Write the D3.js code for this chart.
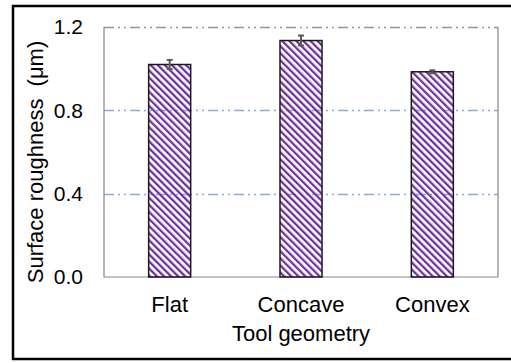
<!DOCTYPE html>
<html>
<head>
<meta charset="utf-8">
<script src="https://cdn.jsdelivr.net/npm/d3@7"></script>
<style>
  body { margin: 0; background: #fff; }
  svg { display: block; font-family: 'Liberation Sans', Arial, sans-serif; }
</style>
</head>
<body>
<svg id="chart" width="511" height="363"></svg>
<script>
const categories = ['Flat', 'Concave', 'Convex']
const roughness = [1.02, 1.135, 0.985]
const errors = [0.022, 0.024, 0.007]
const yTicks = [0, 0.4, 0.8, 1.2]
const xLabel = 'Tool geometry'
const yLabel = 'Surface roughness  (μm)'

const svg = d3.select('#chart')
const margin = { left: 104, right: 13, top: 27, bottom: 86 }
const width = +svg.attr('width')
const height = +svg.attr('height')
const innerWidth = width - margin.left - margin.right
const innerHeight = height - margin.top - margin.bottom
const font = "'Liberation Sans', Arial, sans-serif"

// outer frame
svg.append('rect')
  .attr('x', 13).attr('y', 6)
  .attr('width', 510).attr('height', 353)
  .attr('fill', 'none')
  .attr('stroke', '#000')
  .attr('stroke-width', 2.5)

// hatch
const defs = svg.append('defs')
defs.append('pattern')
  .attr('id', 'hatch')
  .attr('patternUnits', 'userSpaceOnUse')
  .attr('width', 5).attr('height', 5)
  .attr('patternTransform', 'rotate(-45)')
  .append('rect')
  .attr('x', 0).attr('y', 0)
  .attr('width', 2.3).attr('height', 5)
  .attr('fill', '#7030a0')

const g = svg.append('g')
  .attr('transform', 'translate(' + margin.left + ',' + margin.top + ')')

const x = d3.scaleBand().domain(categories).range([0, innerWidth]).paddingInner(0.68).paddingOuter(0.34)
const y = d3.scaleLinear().domain([0, 1.2]).range([innerHeight, 0])

// gridlines
g.selectAll('.grid').data(yTicks.filter(d => d > 0))
  .enter().append('line')
  .attr('class', 'grid')
  .attr('x1', 0).attr('x2', innerWidth)
  .attr('y1', d => Math.round(y(d)) + 0.5).attr('y2', d => Math.round(y(d)) + 0.5)
  .attr('stroke', d => d === 1.2 ? '#8c98a8' : '#8eaadb')
  .attr('stroke-width', 1.3)
  .attr('stroke-dasharray', '10,4,2,4,2,4')

// plot frame (left, right, bottom)
g.append('path')
  .attr('d', 'M0,0V' + innerHeight + 'H' + innerWidth + 'V0')
  .attr('fill', 'none')
  .attr('stroke', '#888')
  .attr('stroke-width', 1.2)

// bars
const data = categories.map((c, i) => ({ cat: c, v: roughness[i], e: errors[i] }))
g.selectAll('.bar').data(data)
  .enter().append('rect')
  .attr('class', 'bar')
  .attr('x', d => x(d.cat))
  .attr('y', d => y(d.v))
  .attr('width', x.bandwidth())
  .attr('height', d => innerHeight - y(d.v))
  .attr('fill', 'url(#hatch)')
  .attr('stroke', '#1a1a1a')
  .attr('stroke-width', 1.5)

// error bars
const cx = d => x(d.cat) + x.bandwidth() / 2
const eb = g.selectAll('.err').data(data).enter().append('g')
  .attr('stroke', '#595959')
  .attr('stroke-width', 2)
eb.append('line')
  .attr('x1', cx).attr('x2', cx)
  .attr('y1', d => y(d.v - d.e)).attr('y2', d => y(d.v + d.e))
eb.append('line')
  .attr('x1', d => cx(d) - 3).attr('x2', d => cx(d) + 3)
  .attr('y1', d => y(d.v + d.e)).attr('y2', d => y(d.v + d.e))
eb.append('line')
  .attr('x1', d => cx(d) - 3).attr('x2', d => cx(d) + 3)
  .attr('y1', d => y(d.v - d.e)).attr('y2', d => y(d.v - d.e))

// axes
const yAxisG = g.append('g')
  .call(d3.axisLeft(y).tickValues(yTicks).tickFormat(d3.format('.1f')).tickSize(0).tickPadding(21))
yAxisG.select('.domain').remove()
yAxisG.attr('font-family', font).attr('font-size', 21)
yAxisG.selectAll('text').attr('fill', '#000')

const xAxisG = g.append('g')
  .attr('transform', `translate(0, ${innerHeight})`)
  .call(d3.axisBottom(x).tickSize(0).tickPadding(19.5))
xAxisG.select('.domain').remove()
xAxisG.attr('font-family', font).attr('font-size', 22)
xAxisG.selectAll('text').attr('fill', '#000')

g.append('text')
  .attr('x', innerWidth / 2)
  .attr('y', 313.5)
  .attr('text-anchor', 'middle')
  .style('font-size', '22px')
  .text(xLabel)

g.append('text')
  .attr('transform', 'rotate(-90)')
  .attr('x', -135)
  .attr('y', -61)
  .attr('text-anchor', 'middle')
  .style('font-size', '22px')
  .style('white-space', 'pre')
  .text(yLabel)
</script>
</body>
</html>
